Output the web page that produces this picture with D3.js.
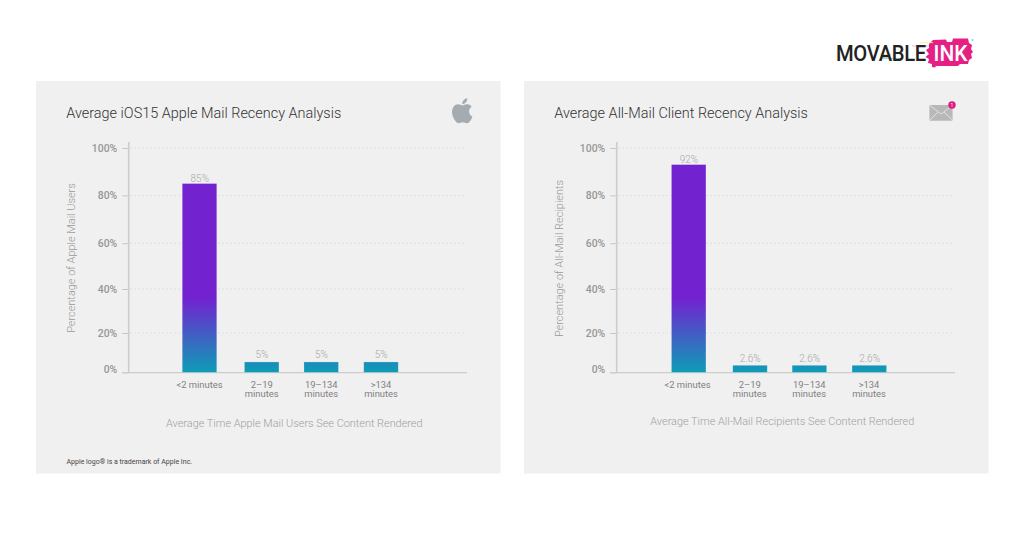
<!DOCTYPE html>
<html><head><meta charset="utf-8">
<script src="https://cdn.jsdelivr.net/npm/d3@7"></script>
<style>
html,body{margin:0;padding:0;background:#fff}
svg{display:block}
text{font-family:Roboto,sans-serif}
</style></head><body>
<svg id="c" width="1024" height="539"></svg>
<script>
const categories = ["<2 minutes", "2–19|minutes", "19–134|minutes", ">134|minutes"];
const yTicks = [0, 20, 40, 60, 80, 100];
const appleValues = [85, 5.3, 5.3, 5.3];
const appleLabels = ["85%", "5%", "5%", "5%"];
const allMailValues = [93, 3.6, 3.6, 3.6];
const allMailLabels = ["92%", "2.6%", "2.6%", "2.6%"];

const svg = d3.select("#c");
const defs = svg.append("defs");
const g = defs.append("linearGradient").attr("id","barGrad").attr("x1",0).attr("x2",0)
  .attr("gradientUnits","userSpaceOnUse").attr("y1",148).attr("y2",372);
[[0,"#7322d0"],[0.67,"#7322d0"],[1,"#0e9cb6"]].forEach(s=>g.append("stop").attr("offset",s[0]).attr("stop-color",s[1]));

const yScale = d3.scaleLinear().domain(yTicks).range([372.4,333,289,243.2,195.4,148]);

function panel(o){
  const p = svg.append("g").attr("transform",`translate(${o.dx},0)`);
  p.append("rect").attr("x",36).attr("y",81).attr("width",464.5).attr("height",392.5).attr("fill","#f0f0f0");
  p.append("text").attr("x",66.3).attr("y",118).attr("font-size",14.45).attr("font-weight",300).attr("fill","#333").text(o.title);

  const xLabel = d3.scaleOrdinal().domain(categories).range([199.5,261.7,321.2,381]);
  const xBar = d3.scaleOrdinal().domain(categories).range(o.barX);
  const barW = 34.5;

  const yAxis = d3.axisLeft(yScale).tickValues(yTicks).tickSize(6.5).tickPadding(5).tickFormat(d=>d+"%");
  const ax = p.append("g").attr("transform","translate(128.7,0)").call(yAxis);
  ax.select(".domain").remove();
  ax.selectAll(".tick line").attr("stroke","#c8c8c8").attr("stroke-width",1);
  ax.selectAll(".tick text").attr("font-size",10.4).attr("font-weight",500).attr("fill","#969696")
    .attr("dy",d=>d===0?"0.04em":"0.34em");

  p.append("g").selectAll("line").data(yTicks.filter(d=>d>0)).join("line")
    .attr("x1",130).attr("x2",467).attr("y1",d=>yScale(d)).attr("y2",d=>yScale(d))
    .attr("stroke","#dcdcdc").attr("stroke-width",0.8).attr("stroke-dasharray","2 2");

  p.append("line").attr("x1",128.7).attr("x2",128.7).attr("y1",142).attr("y2",373).attr("stroke","#cccccc").attr("stroke-width",1.6);
  p.append("line").attr("x1",122).attr("x2",467).attr("y1",372.6).attr("y2",372.6).attr("stroke","#cccccc").attr("stroke-width",1.4);

  p.append("g").selectAll("rect").data(o.values).join("rect")
    .attr("x",(d,i)=>xBar(categories[i])-barW/2).attr("width",barW)
    .attr("y",d=>yScale(d)).attr("height",d=>yScale(0)-yScale(d))
    .attr("fill","url(#barGrad)").attr("stroke","#fff").attr("stroke-opacity",0.25).attr("stroke-width",0.8);
  p.append("g").selectAll("text").data(o.values).join("text")
    .attr("x",(d,i)=>xBar(categories[i])+0.3).attr("y",d=>yScale(d)-(d>50?2:3.6))
    .attr("text-anchor","middle").attr("font-size",10).attr("font-weight",300).attr("fill","#a8a8a8")
    .text((d,i)=>o.labels[i]);

  const cat = p.append("g").selectAll("text").data(categories).join("text")
    .attr("text-anchor","middle").attr("font-size",9.4).attr("font-weight",400).attr("fill","#808080")
    .attr("transform",d=>`translate(${xLabel(d)},0)`);
  cat.each(function(d){
    const sel = d3.select(this);
    d.split("|").forEach((t,i)=>sel.append("tspan").attr("x",0).attr("y",388+i*9.2).text(t));
  });

  p.append("text").attr("transform",`translate(75.3,${o.yTitleY}) rotate(-90)`).attr("text-anchor","middle")
    .attr("font-size",10.95).attr("font-weight",300).attr("fill","#999").text(o.yTitle);
  p.append("text").attr("x",294.3).attr("y",o.xTitleBase).attr("text-anchor","middle")
    .attr("font-size",10.9).attr("font-weight",300).attr("fill","#a0a0a0").text(o.xTitle);
  return p;
}

const left = panel({dx:0,title:"Average iOS15 Apple Mail Recency Analysis",values:appleValues,labels:appleLabels,
  barX:[199.5,261.7,321.2,381],
  yTitle:"Percentage of Apple Mail Users",yTitleY:258,xTitle:"Average Time Apple Mail Users See Content Rendered",xTitleBase:427});
const right = panel({dx:488,title:"Average All-Mail Client Recency Analysis",values:allMailValues,labels:allMailLabels,
  barX:[200.7,262,321.4,381.3],
  yTitle:"Percentage of All-Mail Recipients",yTitleY:258.5,xTitle:"Average Time All-Mail Recipients See Content Rendered",xTitleBase:425});

left.append("text").attr("x",66.5).attr("y",464).attr("font-size",7).attr("fill","#444").text("Apple logo® is a trademark of Apple Inc.");

// Apple icon
svg.append("path").attr("transform","translate(448.6,97.6) scale(0.026)")
  .attr("fill","#a4abb1")
  .attr("d","M788 536c-1-121 99-179 104-182-57-83-145-95-176-96-75-8-146 44-184 44-38 0-97-43-159-42-82 1-157 48-199 121-85 147-22 365 61 484 40 58 89 124 152 121 61-2 84-39 158-39 74 0 94 39 159 38 66-1 107-59 147-118 46-68 65-133 66-137-1-1-127-49-129-194zM668 180c34-41 56-97 50-154-48 2-107 32-141 73-31 36-58 93-51 149 54 4 109-28 142-68z");

// Envelope icon
const env = svg.append("g");
env.append("rect").attr("x",929.4).attr("y",105).attr("width",23.2).attr("height",15.7).attr("rx",1).attr("fill","#b8b8b8");
env.append("path").attr("d","M930 105.5 L941 114 L952.5 105.5 M930 120 L938 112 M952.5 120 L944 112").attr("fill","none").attr("stroke","#e6e6e6").attr("stroke-width",0.9);
env.append("circle").attr("cx",952).attr("cy",105).attr("r",3.7).attr("fill","#e0187f");
env.append("text").attr("x",952).attr("y",106.8).attr("text-anchor","middle").attr("font-size",5).attr("fill","#fff").text("1");

// Movable Ink logo
const logo = svg.append("g");
logo.append("path").attr("fill","#e61f84").attr("d","M929 44 L933 40 L946 39.5 L947 42 L952 42 L953 38.5 L968 38.5 L969 43 L972 45 L971 49 L973 52 L971 54 L972 58 L969 60 L968 64 L960 64 L958 66 L936 66 L935 67.5 L932 67 L932 64 L928 63 L929 59 L925.5 57 L929 54 L926 50 L929 48 Z");
[["M912 46H929","#f6b6d6",1],["M920 42.6H933","#f7ee9a",0.9],["M880 58.6H901","#7fe3ea",1],["M880 54.4H891","#f5e56b",0.9]].forEach(s=>
  logo.append("path").attr("d",s[0]).attr("stroke",s[1]).attr("stroke-width",s[2]).attr("fill","none"));
logo.append("circle").attr("cx",972.5).attr("cy",40).attr("r",1).attr("fill","#5fdde6");
logo.append("text").attr("x",836).attr("y",60.8).attr("font-size",22).attr("font-weight",500)
  .attr("textLength",98).attr("lengthAdjust","spacing").attr("transform","translate(836,0) scale(0.92,1) translate(-836,0)").attr("fill","#222").text("MOVABLE");
logo.append("text").attr("x",933.5).attr("y",60.8).attr("font-size",22).attr("font-weight",500)
  .attr("textLength",34).attr("lengthAdjust","spacingAndGlyphs").attr("fill","#fff").text("INK");
</script>
</body></html>
